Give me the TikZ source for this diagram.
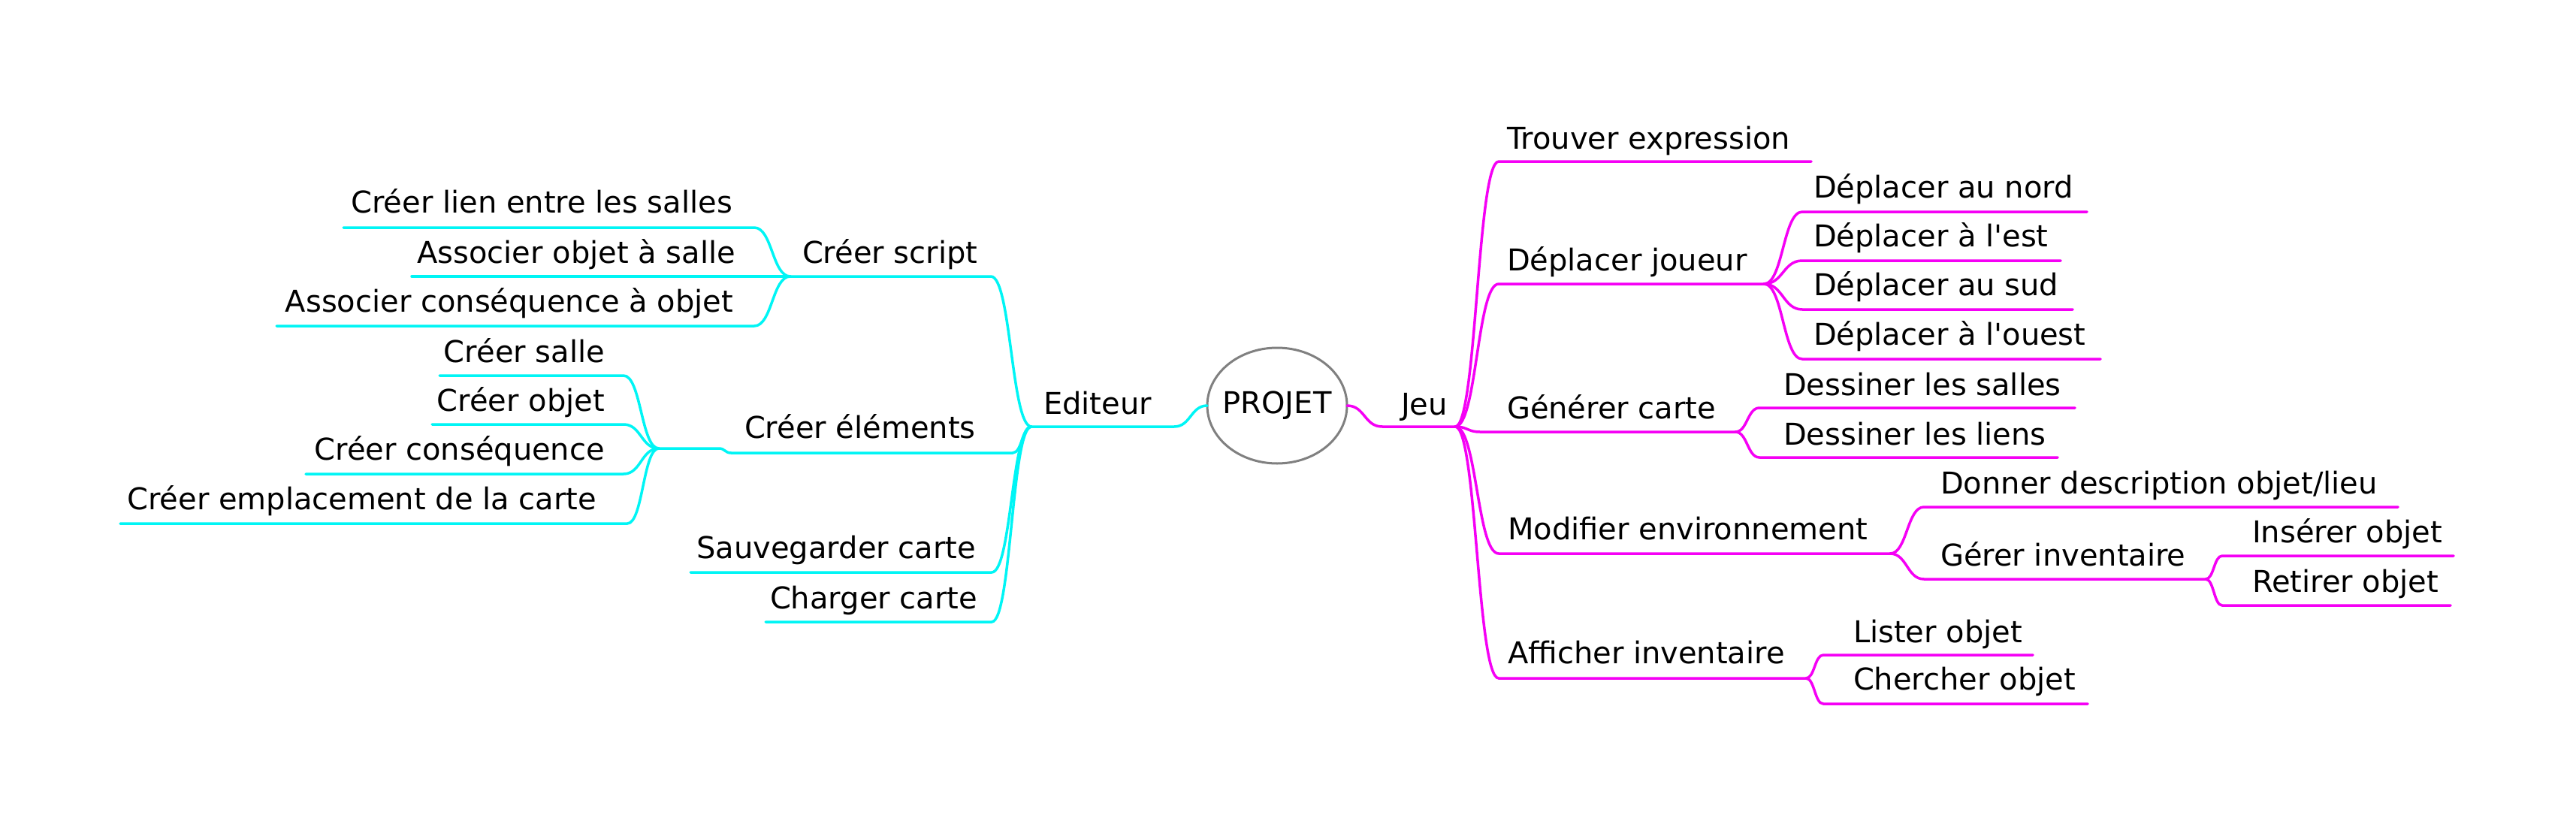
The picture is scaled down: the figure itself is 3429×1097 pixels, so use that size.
\documentclass[tikz,border=0pt]{standalone}
\usepackage{fontspec}
\setmainfont{DejaVu Sans}[Ligatures=TeXOff]
\usetikzlibrary{calc,shapes.geometric}
\definecolor{mmcyan}{RGB}{0,245,245}
\definecolor{mmmag}{RGB}{245,0,245}
\definecolor{mmgray}{RGB}{128,128,128}
\newcommand\mmlink[4][]{\draw[#1] let \p1=(#2), \p2=(#3) in (\p1) .. controls ({0.5*\x1+0.5*\x2},\y1) and ({0.5*\x1+0.5*\x2},\y2) .. (\p2) -- (#4);}
\begin{document}
\begin{tikzpicture}[x=1pt,y=-1pt,
  txt/.style={inner sep=0pt, outer sep=0pt, font=\fontsize{40}{48}\selectfont, text=black},
  rt/.style={txt, anchor=base west},
  lt/.style={txt, anchor=base east},
  mg/.style={draw=mmmag, line width=3.5pt, line cap=round},
  cy/.style={draw=mmcyan, line width=3.5pt, line cap=round}]
\useasboundingbox[fill=white] (0,0) rectangle (3429,1097);

% root
\node[ellipse, draw=mmgray, line width=3pt, minimum width=186pt, minimum height=154pt, inner sep=0pt, outer sep=0pt] (root) at (1700,540) {};
\node[txt, anchor=center] (rootlbl) at (root.center) {PROJET};

% ---------- right side (Jeu) ----------
\node[rt] (jeu) at (1865,552) {Jeu};
\coordinate (jeuK) at (1840,568);
\coordinate (jeuH) at (1937,568);
\draw[mg] (root.east) .. controls +(24,0) and +(-24,0) .. (jeuK) -- (jeuH);

\node[rt] (trouver) at (2006,198) {Trouver expression};
\coordinate (trouverA) at (1995,215); \coordinate (trouverB) at (2411,215);
\mmlink[mg]{jeuH}{trouverA}{trouverB}

\node[rt] (deplJ) at (2006,360) {Déplacer joueur};
\coordinate (deplA) at (1995,378); \coordinate (deplH) at (2348,378);
\mmlink[mg]{jeuH}{deplA}{deplH}

\node[rt] (nord) at (2414,263) {Déplacer au nord};
\coordinate (nordA) at (2399,282); \coordinate (nordB) at (2778,282);
\mmlink[mg]{deplH}{nordA}{nordB}
\node[rt] (est) at (2414,328) {Déplacer à l'est};
\coordinate (estA) at (2399,347); \coordinate (estB) at (2743,347);
\mmlink[mg]{deplH}{estA}{estB}
\node[rt] (sud) at (2414,393) {Déplacer au sud};
\coordinate (sudA) at (2399,412); \coordinate (sudB) at (2759,412);
\mmlink[mg]{deplH}{sudA}{sudB}
\node[rt] (ouest) at (2414,459) {Déplacer à l'ouest};
\coordinate (ouestA) at (2399,478); \coordinate (ouestB) at (2796,478);
\mmlink[mg]{deplH}{ouestA}{ouestB}

\node[rt] (gen) at (2006,557) {Générer carte};
\coordinate (genA) at (1970,575); \coordinate (genH) at (2310,575);
\mmlink[mg]{jeuH}{genA}{genH}

\node[rt] (dsalles) at (2374,526) {Dessiner les salles};
\coordinate (dsallesA) at (2342,543); \coordinate (dsallesB) at (2762,543);
\mmlink[mg]{genH}{dsallesA}{dsallesB}
\node[rt] (dliens) at (2374,592) {Dessiner les liens};
\coordinate (dliensA) at (2342,609); \coordinate (dliensB) at (2739,609);
\mmlink[mg]{genH}{dliensA}{dliensB}

\node[rt] (modif) at (2007,718) {Modifier environnement};
\coordinate (modifA) at (1995,737); \coordinate (modifH) at (2516,737);
\mmlink[mg]{jeuH}{modifA}{modifH}

\node[rt] (donner) at (2583,657) {Donner description objet/lieu};
\coordinate (donnerA) at (2561,675); \coordinate (donnerB) at (3192,675);
\mmlink[mg]{modifH}{donnerA}{donnerB}
\node[rt] (gerer) at (2583,753) {Gérer inventaire};
\coordinate (gererA) at (2561,771); \coordinate (gererH) at (2936,771);
\mmlink[mg]{modifH}{gererA}{gererH}

\node[rt] (inserer) at (2998,722) {Insérer objet};
\coordinate (insererA) at (2958,740); \coordinate (insererB) at (3266,740);
\mmlink[mg]{gererH}{insererA}{insererB}
\node[rt] (retirer) at (2998,788) {Retirer objet};
\coordinate (retirerA) at (2958,806); \coordinate (retirerB) at (3262,806);
\mmlink[mg]{gererH}{retirerA}{retirerB}

\node[rt] (affich) at (2007,883) {Afficher inventaire};
\coordinate (affichA) at (1995,903); \coordinate (affichH) at (2404,903);
\mmlink[mg]{jeuH}{affichA}{affichH}

\node[rt] (lister) at (2467,855) {Lister objet};
\coordinate (listerA) at (2427,872); \coordinate (listerB) at (2706,872);
\mmlink[mg]{affichH}{listerA}{listerB}
\node[rt] (chercher) at (2467,918) {Chercher objet};
\coordinate (chercherA) at (2427,937); \coordinate (chercherB) at (2779,937);
\mmlink[mg]{affichH}{chercherA}{chercherB}

% ---------- left side (Editeur) ----------
\node[rt] (editeur) at (1389,551) {Editeur};
\coordinate (edK) at (1563,568);
\coordinate (edH) at (1373,568);
\draw[cy] (root.west) .. controls +(-22,0) and +(22,0) .. (edK) -- (edH);

\node[rt] (script) at (1068,350) {Créer script};
\coordinate (scriptB) at (1319,368); \coordinate (scriptH) at (1052,368);
\mmlink[cy]{edH}{scriptB}{scriptH}

\node[lt] (lien) at (975,283) {Créer lien entre les salles};
\coordinate (lienB) at (1004,303); \coordinate (lienA) at (457,303);
\mmlink[cy]{scriptH}{lienB}{lienA}
\node[lt] (assocObj) at (979,350) {Associer objet à salle};
\coordinate (assocObjA) at (548,368);
\draw[cy] (scriptH) -- (assocObjA);
\node[lt] (assocCons) at (976,415) {Associer conséquence à objet};
\coordinate (assocConsB) at (1004,434); \coordinate (assocConsA) at (368,434);
\mmlink[cy]{scriptH}{assocConsB}{assocConsA}

\node[rt] (elem) at (991,583) {Créer éléments};
\coordinate (elemB) at (1348,603); \coordinate (elemA) at (973,603);
\coordinate (elemK) at (957,597); \coordinate (elemH) at (877,597);
\mmlink[cy]{edH}{elemB}{elemA}
\draw[cy] (elemA) .. controls +(-8,0) and +(8,0) .. (elemK) -- (elemH);

\node[lt] (csalle) at (805,482) {Créer salle};
\coordinate (csalleB) at (830,500); \coordinate (csalleA) at (585,500);
\mmlink[cy]{elemH}{csalleB}{csalleA}
\node[lt] (cobjet) at (805,547) {Créer objet};
\coordinate (cobjetB) at (830,565); \coordinate (cobjetA) at (575,565);
\mmlink[cy]{elemH}{cobjetB}{cobjetA}
\node[lt] (ccons) at (805,612) {Créer conséquence};
\coordinate (cconsB) at (830,631); \coordinate (cconsA) at (407,631);
\mmlink[cy]{elemH}{cconsB}{cconsA}
\node[lt] (cempl) at (794,678) {Créer emplacement de la carte};
\coordinate (cemplB) at (835,697); \coordinate (cemplA) at (160,697);
\mmlink[cy]{elemH}{cemplB}{cemplA}

\node[lt] (sauv) at (1299,743) {Sauvegarder carte};
\coordinate (sauvB) at (1320,762); \coordinate (sauvA) at (919,762);
\mmlink[cy]{edH}{sauvB}{sauvA}
\node[lt] (charger) at (1301,810) {Charger carte};
\coordinate (chargerB) at (1320,828); \coordinate (chargerA) at (1019,828);
\mmlink[cy]{edH}{chargerB}{chargerA}
\end{tikzpicture}
\end{document}
